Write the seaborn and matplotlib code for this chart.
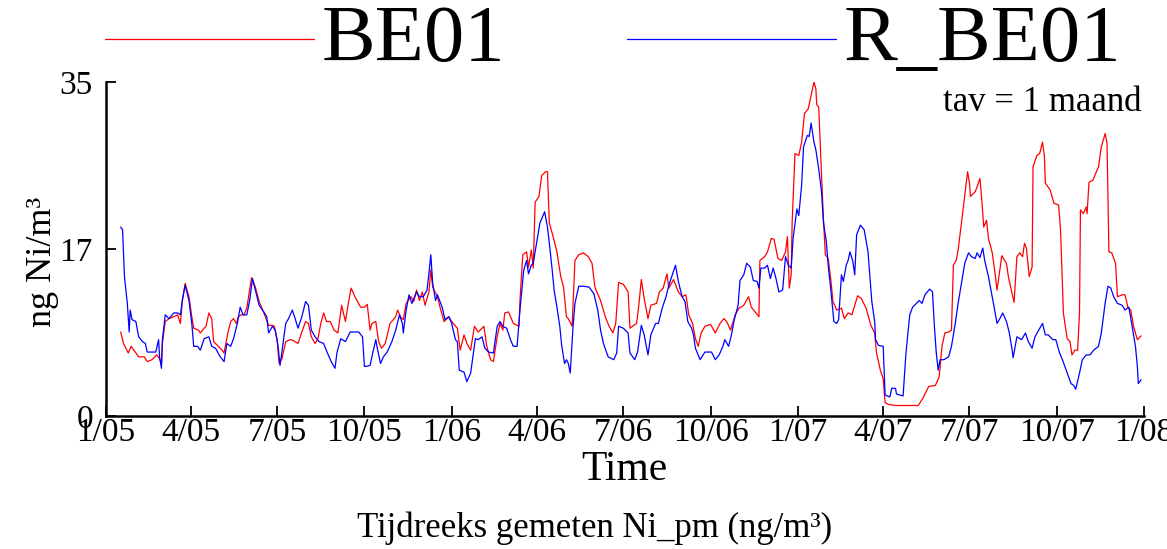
import pandas as pd
import matplotlib
matplotlib.use("Agg")
import matplotlib.pyplot as plt
import seaborn as sns

be01_dag = [16, 19, 24, 27, 32, 35, 41, 44, 49, 54,
            57, 59, 60, 63, 67, 72, 76, 79, 81, 84,
            88, 91, 93, 98, 100, 104, 106, 109, 112, 114,
            118, 123, 125, 129, 132, 135, 138, 140, 143, 146,
            149, 154, 158, 162, 167, 172, 176, 178, 181, 183,
            186, 190, 195, 198, 203, 207, 211, 214, 217, 221,
            224, 227, 230, 233, 237, 241, 245, 249, 253, 256,
            259, 263, 269, 273, 276, 279, 281, 285, 288, 291,
            295, 300, 306, 308, 311, 314, 317, 322, 325, 328,
            331, 334, 337, 341, 343, 345, 350, 353, 357, 362,
            365, 371, 374, 378, 381, 385, 389, 393, 399, 402,
            406, 409, 413, 416, 419, 421, 425, 430, 436, 437,
            440, 444, 446, 449, 451, 453, 457, 460, 464, 466,
            468, 472, 476, 480, 483, 486, 488, 492, 495, 499,
            504, 509, 513, 516, 522, 527, 531, 535, 538, 541,
            546, 551, 553, 557, 560, 562, 565, 568, 572, 575,
            581, 584, 588, 592, 594, 599, 604, 608, 612, 615,
            619, 622, 625, 628, 632, 638, 643, 648, 652, 655,
            659, 664, 668, 673, 678, 681, 685, 689, 690, 695,
            698, 702, 705, 709, 713, 717, 719, 721, 723, 724,
            727, 731, 734, 737, 741, 744, 747, 749, 750, 752,
            755, 757, 759, 762, 765, 767, 771, 776, 779, 783,
            787, 793, 797, 802, 807, 811, 813, 817, 820, 822,
            826, 834, 857, 862, 868, 875, 879, 882, 885, 889,
            892, 894, 897, 899, 902, 905, 909, 911, 912, 917,
            919, 922, 924, 926, 929, 931, 935, 938, 940, 943,
            945, 950, 952, 956, 958, 961, 964, 967, 969, 971,
            974, 977, 978, 982, 985, 988, 990, 991, 996, 1000,
            1005, 1007, 1010, 1014, 1017, 1019, 1022, 1025, 1027, 1028,
            1031, 1034, 1035, 1037, 1041, 1047, 1050, 1054, 1056, 1058,
            1061, 1065, 1067, 1072, 1075, 1078, 1081, 1084, 1088, 1092]
be01_ni = [8.8, 7.6, 6.6, 7.3, 6.6, 6.2, 6.2, 5.7, 5.9, 6.4,
           6.0, 5.5, 7.6, 9.9, 10.2, 10.4, 10.6, 9.7, 12.1, 13.9,
           12.5, 10.4, 9.2, 9.0, 8.7, 9.2, 9.4, 10.8, 10.2, 7.8,
           7.4, 6.9, 6.6, 8.7, 9.9, 10.2, 9.7, 10.4, 10.6, 10.6,
           11.3, 14.5, 13.5, 12.0, 10.8, 9.5, 9.5, 9.4, 8.0, 5.5,
           6.0, 7.8, 8.0, 7.9, 7.6, 8.8, 9.9, 9.7, 8.3, 7.6,
           8.1, 9.7, 10.8, 9.9, 9.9, 9.0, 8.7, 11.6, 9.9, 11.8,
           13.4, 12.5, 11.4, 11.4, 11.7, 9.0, 9.7, 9.9, 7.8, 7.1,
           7.6, 9.7, 10.4, 11.1, 10.4, 10.1, 11.8, 12.5, 12.0, 13.2,
           12.1, 13.0, 11.6, 13.0, 15.3, 13.5, 12.5, 11.3, 9.9, 10.4,
           9.9, 9.2, 6.9, 8.5, 7.6, 6.9, 9.4, 8.8, 9.4, 7.3,
           5.9, 5.7, 8.3, 9.7, 9.0, 10.8, 10.9, 9.7, 9.4, 12.1,
           16.9, 17.2, 15.6, 17.4, 15.5, 22.4, 23.0, 25.2, 25.6, 25.6,
           20.2, 18.8, 17.2, 14.6, 13.5, 10.4, 10.2, 9.4, 16.3, 16.9,
           17.1, 16.7, 16.0, 13.5, 12.1, 10.4, 9.4, 8.7, 9.7, 14.0,
           13.8, 13.0, 9.2, 9.5, 9.7, 11.3, 14.3, 12.3, 10.2, 11.6,
           11.8, 13.0, 13.4, 14.9, 13.4, 14.3, 13.0, 12.5, 12.7, 10.6,
           9.7, 8.1, 7.3, 8.7, 9.4, 9.6, 8.7, 9.7, 10.2, 9.9,
           9.0, 10.6, 11.3, 11.6, 12.5, 11.4, 10.9, 10.4, 16.3, 16.7,
           17.2, 18.6, 18.5, 16.5, 16.3, 17.2, 18.8, 13.4, 14.8, 20.3,
           27.5, 27.3, 28.7, 31.7, 32.2, 33.6, 35.0, 34.3, 32.6, 32.4,
           25.2, 20.7, 16.9, 16.5, 14.1, 12.0, 11.1, 11.3, 10.2, 10.8,
           10.6, 12.6, 12.3, 11.3, 9.5, 8.7, 6.6, 4.8, 3.9, 1.4,
           1.2, 1.1, 1.1, 1.9, 3.1, 3.2, 4.1, 7.3, 8.7, 8.8,
           9.0, 15.8, 16.3, 17.4, 19.8, 22.3, 25.6, 24.4, 23.0, 23.5,
           24.0, 24.9, 22.6, 19.8, 20.5, 18.6, 17.1, 14.9, 13.2, 15.3,
           16.8, 16.0, 14.6, 12.8, 11.9, 16.7, 17.1, 16.7, 18.1, 17.6,
           14.6, 15.6, 26.1, 27.3, 27.5, 28.7, 27.2, 24.4, 23.7, 22.3,
           22.1, 19.5, 10.8, 8.1, 7.8, 6.4, 6.9, 6.9, 10.8, 21.6,
           21.2, 21.9, 21.2, 24.5, 24.7, 26.1, 28.2, 29.6, 28.6, 17.2,
           17.1, 16.0, 12.5, 12.7, 12.7, 11.4, 11.1, 9.4, 8.0, 8.4]

r_be01_dag = [16, 18, 20, 23, 25, 26, 28, 32, 35, 39,
              42, 44, 53, 56, 57, 59, 60, 63, 67, 72,
              76, 79, 81, 84, 88, 91, 93, 97, 100, 104,
              109, 112, 116, 121, 125, 128, 132, 135, 139, 142,
              145, 149, 152, 155, 158, 162, 167, 170, 172, 176,
              179, 182, 184, 186, 190, 193, 197, 200, 203, 207,
              211, 214, 217, 221, 225, 230, 234, 238, 242, 244,
              248, 253, 258, 267, 271, 273, 275, 279, 282, 285,
              287, 290, 293, 297, 302, 306, 310, 313, 314, 317,
              320, 323, 328, 331, 335, 339, 341, 343, 345, 348,
              350, 355, 358, 362, 365, 369, 371, 373, 378, 381,
              385, 390, 393, 397, 400, 404, 409, 413, 416, 419,
              423, 427, 430, 434, 437, 439, 441, 444, 446, 449,
              451, 455, 458, 463, 466, 468, 471, 473, 476, 479,
              481, 484, 486, 488, 490, 493, 495, 499, 504, 510,
              515, 519, 522, 525, 530, 536, 539, 541, 546, 551,
              553, 558, 561, 565, 568, 572, 575, 580, 583, 587,
              591, 594, 597, 601, 604, 608, 611, 614, 618, 620,
              622, 627, 632, 639, 643, 647, 651, 653, 657, 660,
              663, 667, 669, 673, 676, 680, 683, 687, 689, 691,
              695, 698, 701, 704, 707, 710, 714, 717, 720, 723,
              725, 729, 731, 734, 736, 740, 742, 744, 747, 749,
              752, 755, 757, 760, 762, 765, 768, 771, 773, 776,
              778, 781, 783, 785, 788, 790, 792, 796, 800, 804,
              808, 811, 812, 815, 820, 822, 827, 829, 833, 834,
              841, 844, 848, 851, 855, 858, 861, 864, 869, 872,
              874, 876, 878, 880, 884, 889, 892, 896, 899, 903,
              906, 910, 913, 917, 919, 922, 925, 927, 931, 935,
              937, 940, 943, 946, 950, 953, 956, 957, 961, 966,
              970, 973, 977, 980, 984, 988, 991, 994, 999, 1002,
              1006, 1009, 1014, 1018, 1021, 1023, 1027, 1030, 1034, 1038,
              1042, 1047, 1050, 1054, 1057, 1060, 1063, 1067, 1072, 1075,
              1079, 1082, 1086, 1088, 1089, 1092]
r_be01_ni = [19.8, 19.5, 14.6, 11.8, 8.8, 11.1, 10.1, 9.9, 8.3, 7.8,
             7.6, 6.7, 6.7, 8.0, 6.2, 5.0, 8.0, 10.6, 10.2, 10.8,
             10.8, 10.6, 12.1, 13.7, 12.1, 9.7, 7.3, 7.3, 6.9, 8.1,
             8.3, 7.3, 7.1, 6.2, 5.7, 7.6, 7.3, 8.1, 9.7, 11.4,
             10.6, 10.6, 12.1, 14.4, 13.2, 11.6, 10.9, 10.4, 8.7, 9.4,
             9.0, 7.3, 5.3, 6.7, 9.7, 10.2, 11.1, 10.2, 9.2, 10.4,
             12.0, 11.6, 9.0, 8.3, 7.8, 7.6, 6.6, 5.7, 5.0, 6.6,
             8.1, 7.8, 8.8, 8.8, 8.3, 5.2, 5.2, 5.3, 6.7, 8.0,
             6.9, 5.5, 6.2, 6.7, 7.8, 9.0, 10.6, 9.7, 8.7, 11.1,
             12.7, 11.8, 13.0, 12.5, 12.5, 13.2, 14.9, 16.9, 13.9, 12.1,
             12.7, 11.4, 10.1, 10.4, 9.7, 8.0, 7.8, 4.8, 4.6, 3.6,
             4.5, 8.1, 8.0, 8.3, 7.1, 6.7, 6.6, 9.4, 9.9, 9.4,
             9.2, 8.0, 7.3, 7.3, 11.1, 13.2, 15.3, 16.3, 14.9, 15.8,
             16.0, 18.4, 20.2, 21.4, 19.8, 18.1, 15.3, 13.2, 11.4, 9.4,
             7.4, 5.5, 5.9, 5.5, 4.5, 9.4, 11.8, 13.6, 13.6, 13.5,
             12.8, 11.1, 9.0, 7.6, 6.2, 5.9, 6.6, 9.4, 9.2, 8.7,
             6.6, 5.9, 6.7, 9.5, 8.5, 6.4, 8.5, 9.7, 9.7, 11.3,
             12.5, 13.7, 14.6, 15.8, 14.1, 12.5, 12.0, 9.9, 9.2, 8.5,
             7.1, 5.9, 6.7, 6.7, 5.9, 6.4, 7.3, 8.0, 7.3, 8.5,
             10.1, 11.6, 14.2, 14.8, 16.0, 15.6, 14.2, 14.1, 13.4, 15.5,
             15.5, 15.8, 14.4, 15.5, 14.4, 13.0, 13.2, 16.7, 15.8, 15.5,
             18.6, 21.7, 21.0, 24.2, 28.2, 29.4, 29.3, 30.7, 28.7, 27.9,
             25.9, 23.5, 20.3, 18.3, 15.8, 13.0, 9.9, 9.7, 10.1, 14.8,
             14.1, 15.8, 16.3, 17.2, 16.2, 14.8, 19.0, 20.0, 19.5, 17.2,
             12.0, 9.9, 8.0, 7.4, 7.3, 2.2, 2.0, 2.9, 2.9, 2.3,
             2.1, 6.6, 10.6, 11.4, 11.8, 12.1, 11.8, 12.7, 13.3, 13.0,
             9.4, 6.6, 4.8, 5.9, 5.9, 6.2, 7.3, 9.7, 11.8, 14.2,
             16.0, 17.1, 16.7, 16.5, 17.1, 16.6, 17.6, 16.3, 14.6, 12.5,
             11.4, 9.7, 10.2, 10.8, 9.9, 8.7, 6.9, 6.1, 8.3, 8.0,
             8.7, 7.8, 7.1, 8.3, 9.0, 9.7, 8.5, 8.5, 8.0, 8.0,
             6.6, 5.9, 4.5, 3.4, 3.2, 2.8, 4.5, 5.9, 6.4, 6.4,
             6.9, 7.3, 8.7, 11.8, 13.6, 13.4, 12.5, 11.8, 11.6, 11.1,
             11.4, 9.7, 7.3, 5.2, 3.4, 3.8]

tick_datums = ["2005-01-01", "2005-04-01", "2005-07-01", "2005-10-01",
               "2006-01-01", "2006-04-01", "2006-07-01", "2006-10-01",
               "2007-01-01", "2007-04-01", "2007-07-01", "2007-10-01",
               "2008-01-01"]
tick_labels = ["1/05", "4/05", "7/05", "10/05", "1/06", "4/06", "7/06",
               "10/06", "1/07", "4/07", "7/07", "10/07", "1/08"]
y_ticks = [0, 17.5, 35]
y_labels = ["0", "17", "35"]

start = pd.Timestamp("2005-01-01")
df = pd.concat([
    pd.DataFrame({"datum": start + pd.to_timedelta(be01_dag, unit="D"),
                  "ni": be01_ni, "reeks": "BE01"}),
    pd.DataFrame({"datum": start + pd.to_timedelta(r_be01_dag, unit="D"),
                  "ni": r_be01_ni, "reeks": "R_BE01"}),
], ignore_index=True)

sns.set_theme(style="ticks")
plt.rcParams["font.family"] = ["Liberation Serif", "DejaVu Serif"]
plt.rcParams["text.color"] = "black"
plt.rcParams["axes.labelcolor"] = "black"

fig = plt.figure(figsize=(11.67, 5.49), dpi=100)
ax = fig.add_axes([105.5 / 1167, 1 - 416 / 549, 1038.5 / 1167, 334 / 549])

sns.lineplot(data=df, x="datum", y="ni", hue="reeks", estimator=None,
             palette={"BE01": "#ff0000", "R_BE01": "#0000ff"},
             hue_order=["BE01", "R_BE01"], linewidth=0.9, ax=ax)

ax.set_xlim(pd.Timestamp("2005-01-01"), pd.Timestamp("2008-01-01"))
ax.set_ylim(0, 35)
ax.set_xticks(pd.to_datetime(tick_datums))
ax.set_xticklabels(tick_labels)
ax.set_yticks(y_ticks)
ax.set_yticklabels(y_labels)
ax.tick_params(direction="in", length=7, width=1.3, labelsize=24,
               colors="black")
ax.tick_params(axis="x", pad=1)
ax.tick_params(axis="y", pad=9)
for s in ["top", "right"]:
    ax.spines[s].set_visible(False)
for s in ["left", "bottom"]:
    ax.spines[s].set_linewidth(1.8)
    ax.spines[s].set_color("black")

ax.set_xlabel("Time", fontsize=30, labelpad=2)
ax.set_ylabel("ng Ni/m³", fontsize=26)
ax.yaxis.set_label_coords(-0.045, 0.46)

ax.text(0.998, 0.94, "tav = 1 maand", transform=ax.transAxes,
        ha="right", va="center", fontsize=25)

leg = ax.legend(loc="center left", bbox_to_anchor=(105 / 1167, 1 - 41 / 549),
                bbox_transform=fig.transFigure, ncol=2, frameon=False,
                fontsize=58, handlelength=2.59, handletextpad=0.1,
                columnspacing=1.51, borderpad=0, borderaxespad=0)
# legendalijnen iets lager, zoals in het origineel
for ln in leg.get_lines():
    ln.set_ydata([y - 5 for y in ln.get_ydata()])

fig.text(595 / 1167, 1 - 528 / 549, "Tijdreeks gemeten Ni_pm (ng/m³)",
         ha="center", va="center", fontsize=25)

fig.savefig("out.png", dpi=100)
